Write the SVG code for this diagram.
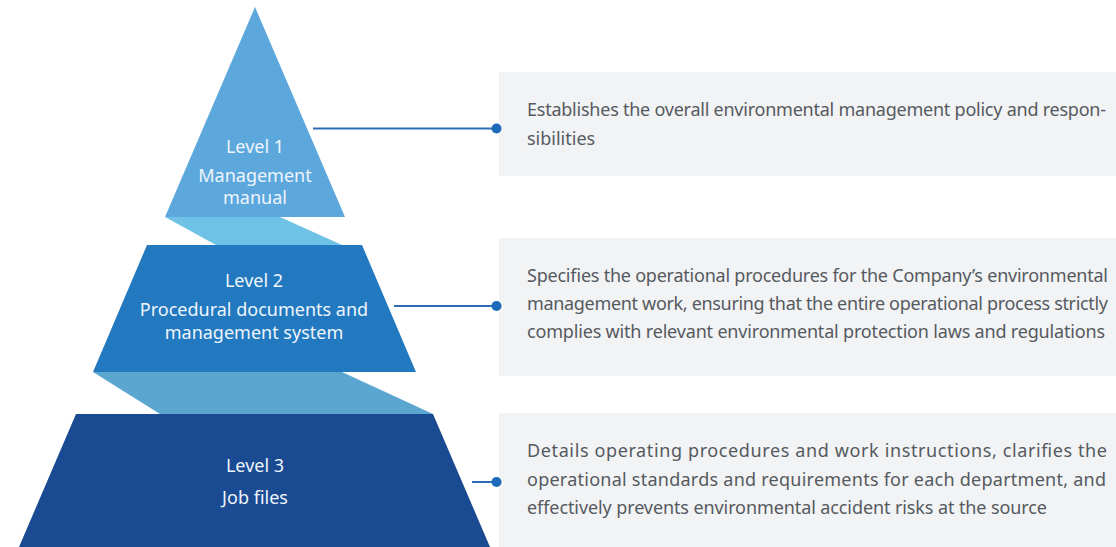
<svg xmlns="http://www.w3.org/2000/svg" width="1116" height="547" viewBox="0 0 1116 547">
<style>
.lvl{font-family:"Noto Sans","Liberation Sans",sans-serif;font-size:18px;fill:#EEF5FC;text-anchor:middle}
.desc{font-family:"Noto Sans","Liberation Sans",sans-serif;font-size:18px;fill:#555A60}
.box{fill:#F2F3F5}
.conn{stroke:#2E6DB4;stroke-width:2;fill:none}
.dot{fill:#1D6BB8}
</style>
<rect width="1116" height="547" fill="#FFFFFF"/>
<g id="bands">
<polygon points="165,217 280,217 342,245 216,245" fill="#6DC2E5"/>
<polygon points="93,372 342,372 433,414 160,414" fill="#5AA6D0"/>
</g>
<g id="level1">
<polygon points="255,7 345,217 165,217" fill="#5CA8DC"/>
<text class="lvl" x="255" y="153">Level 1</text>
<text class="lvl" x="255" y="182">Management</text>
<text class="lvl" x="255" y="204">manual</text>
</g>
<g id="level2">
<polygon points="147,245 362,245 416,372 93,372" fill="#2379BF"/>
<text class="lvl" x="254" y="287">Level 2</text>
<text class="lvl" x="254" y="316">Procedural documents and</text>
<text class="lvl" x="254" y="339">management system</text>
</g>
<g id="level3">
<polygon points="76,414 433,414 490,547 19,547" fill="#1A4A92"/>
<text class="lvl" x="255" y="472">Level 3</text>
<text class="lvl" x="255" y="504">Job files</text>
</g>
<g id="desc1">
<rect class="box" x="499" y="72" width="617" height="104"/>
<text class="desc" x="527" y="116" textLength="579" lengthAdjust="spacing">Establishes the overall environmental management policy and respon-</text>
<text class="desc" x="527" y="145">sibilities</text>
</g>
<g id="desc2">
<rect class="box" x="499" y="238" width="617" height="138"/>
<text class="desc" x="527" y="282" textLength="581" lengthAdjust="spacing">Specifies the operational procedures for the Company’s environmental</text>
<text class="desc" x="527" y="310" textLength="581" lengthAdjust="spacing">management work, ensuring that the entire operational process strictly</text>
<text class="desc" x="527" y="338" textLength="578" lengthAdjust="spacing">complies with relevant environmental protection laws and regulations</text>
</g>
<g id="desc3">
<rect class="box" x="499" y="413" width="617" height="134"/>
<text class="desc" x="527" y="457" textLength="580" lengthAdjust="spacing">Details operating procedures and work instructions, clarifies the</text>
<text class="desc" x="527" y="486" textLength="579" lengthAdjust="spacing">operational standards and requirements for each department, and</text>
<text class="desc" x="527" y="514" textLength="520" lengthAdjust="spacing">effectively prevents environmental accident risks at the source</text>
</g>
<g id="connectors">
<line class="conn" x1="313" y1="128.5" x2="496" y2="128.5"/>
<circle class="dot" cx="496.5" cy="128.5" r="5"/>
<line class="conn" x1="394" y1="306" x2="496" y2="306"/>
<circle class="dot" cx="496.5" cy="306" r="5"/>
<line class="conn" x1="472" y1="482" x2="496" y2="482"/>
<circle class="dot" cx="496.5" cy="482" r="5"/>
</g>
</svg>
